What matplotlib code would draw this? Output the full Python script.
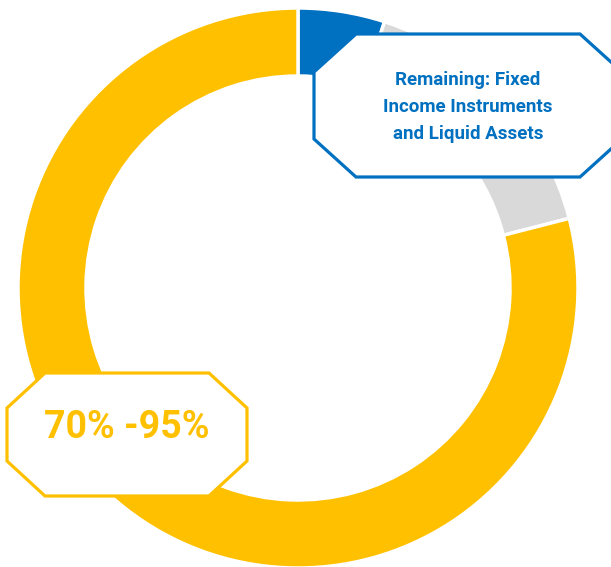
import matplotlib
matplotlib.use("Agg")
import matplotlib.pyplot as plt
from matplotlib.patches import Polygon

# shares of the portfolio, clockwise from 12 o'clock
segments = ["Fixed income", "Liquid assets", "Equity"]
shares = [5, 16, 79]
colors = ["#0070C0", "#D9D9D9", "#FFC000"]

blue_label = "Remaining: Fixed\nIncome Instruments\nand Liquid Assets"
yellow_label = "70% -95%"

W, H = 611, 567


def chamfer_box(ax, x0, y0, x1, y1, cx, cy, color, lw=2.3):
    # rectangle with the four corners cut off (octagon)
    pts = [(x0 + cx, y1), (x1 - cx, y1), (x1, y1 - cy), (x1, y0 + cy),
           (x1 - cx, y0), (x0 + cx, y0), (x0, y0 + cy), (x0, y1 - cy)]
    ax.add_patch(Polygon(pts, closed=True, facecolor="white", edgecolor=color,
                         linewidth=lw, zorder=5))


fig = plt.figure(figsize=(W / 100, H / 100), dpi=100)
ax = fig.add_axes([0, 0, 1, 1])

ax.pie(shares, colors=colors, startangle=90, counterclock=False,
       center=(298, H - 288), radius=280, frame=True,
       wedgeprops=dict(width=68, edgecolor="white", linewidth=2.5))
ax.set_xlim(0, W)
ax.set_ylim(0, H)
ax.set_aspect("equal")
ax.axis("off")

# blue callout (top right)
chamfer_box(ax, 314, H - 177, 622, H - 34, 42, 38, "#0070C0")
ax.text(468, H - 107, blue_label, ha="center", va="center", color="#0070C0",
        fontsize=13.5, family="Roboto", fontweight="semibold",
        linespacing=1.62, zorder=6)

# yellow callout (bottom left)
chamfer_box(ax, 7, H - 496, 247, H - 373, 38, 35, "#FFC000")
ax.text(127, H - 428, yellow_label, ha="center", va="center", color="#FFC000",
        fontsize=27, family="Roboto", fontweight="semibold", zorder=6)

fig.savefig("out.png", dpi=100)
